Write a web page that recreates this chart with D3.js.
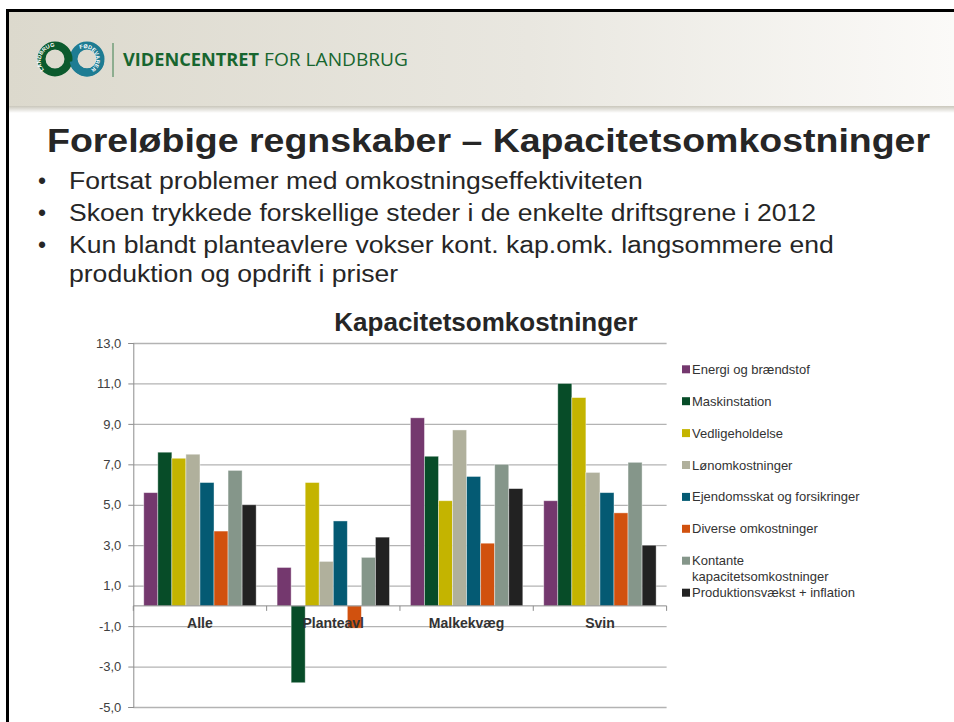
<!DOCTYPE html>
<html>
<head>
<meta charset="utf-8">
<script src="https://cdn.jsdelivr.net/npm/d3@7"></script>
<style>
  body { margin: 0; background: #fff; }
  svg { display: block; font-family: "Liberation Sans", Arial, sans-serif; }
</style>
</head>
<body>
<div id="slide"></div>
<script>

// chart data
var categories = ["Alle", "Planteavl", "Malkekvæg", "Svin"];
var seriesNames = ["Energi og brændstof", "Maskinstation", "Vedligeholdelse", "Lønomkostninger",
  "Ejendomsskat og forsikringer", "Diverse omkostninger", "Kontante kapacitetsomkostninger",
  "Produktionsvækst + inflation"];
var energi      = [5.6, 1.9, 9.3, 5.2];
var maskin      = [7.6, -3.8, 7.4, 11.0];
var vedlige     = [7.3, 6.1, 5.2, 10.3];
var loen        = [7.5, 2.2, 8.7, 6.6];
var ejendom     = [6.1, 4.2, 6.4, 5.6];
var diverse     = [3.7, -1.1, 3.1, 4.6];
var kontante    = [6.7, 2.4, 7.0, 7.1];
var produktion  = [5.0, 3.4, 5.8, 3.0];
var yTicks = [-5, -3, -1, 1, 3, 5, 7, 9, 11, 13];

var colors = ["#74386e", "#074c28", "#c4b400", "#b0b09c", "#045a73", "#d1510e", "#85968a", "#222222"];
var seriesValues = [energi, maskin, vedlige, loen, ejendom, diverse, kontante, produktion];

var bullets = [
  "Fortsat problemer med omkostningseffektiviteten",
  "Skoen trykkede forskellige steder i de enkelte driftsgrene i 2012",
  "Kun blandt planteavlere vokser kont. kap.omk. langsommere end"
];
var bulletCont = "produktion og opdrift i priser";

var svg = d3.select("#slide").append("svg")
    .attr("width", 954)
    .attr("height", 722);

var defs = svg.append("defs");
var hg = defs.append("linearGradient").attr("id", "headGrad");
hg.append("stop").attr("offset", "0%").attr("stop-color", "#dcd9cd");
hg.append("stop").attr("offset", "55%").attr("stop-color", "#e9e7e0");
hg.append("stop").attr("offset", "100%").attr("stop-color", "#fbfaf8");
var sg = defs.append("linearGradient").attr("id", "shadowGrad")
    .attr("x1", 0).attr("x2", 0).attr("y1", 0).attr("y2", 1);
sg.append("stop").attr("offset", "0%").attr("stop-color", "#cac7bc");
sg.append("stop").attr("offset", "100%").attr("stop-color", "#ffffff");

// header band
svg.append("rect").attr("x", 9).attr("y", 12).attr("width", 945).attr("height", 95)
    .attr("fill", "url(#headGrad)");
svg.append("rect").attr("x", 9).attr("y", 106).attr("width", 945).attr("height", 7)
    .attr("fill", "url(#shadowGrad)");

// slide border
svg.append("rect").attr("x", 6).attr("y", 9).attr("width", 948).attr("height", 3).attr("fill", "#000");
svg.append("rect").attr("x", 6).attr("y", 9).attr("width", 3).attr("height", 713).attr("fill", "#000");

// logo rings
var logo = svg.append("g");
logo.append("circle").attr("cx", 87).attr("cy", 59).attr("r", 13.5)
    .attr("fill", "none").attr("stroke", "#1e7c93").attr("stroke-width", 8);
logo.append("circle").attr("cx", 55).attr("cy", 59).attr("r", 13.5)
    .attr("fill", "none").attr("stroke", "#0b5a2d").attr("stroke-width", 8);
logo.append("path")
    .attr("d", d3.arc()({innerRadius: 9.5, outerRadius: 17.5, startAngle: Math.PI * 0.55, endAngle: Math.PI * 1.45}))
    .attr("transform", "translate(87,59)")
    .attr("fill", "#1e7c93");
defs.append("path").attr("id", "ringL").attr("d", "M44,70 A11.5,11.5 0 1,1 66,52");
defs.append("path").attr("id", "ringR").attr("d", "M80,49 A11.5,11.5 0 1,1 84,71");
logo.append("text").attr("font-size", 5.5).attr("font-weight", "bold").attr("fill", "#fff")
    .append("textPath").attr("href", "#ringL").text("LANDBRUG");
logo.append("text").attr("font-size", 5.5).attr("font-weight", "bold").attr("fill", "#fff")
    .append("textPath").attr("href", "#ringR").text("FØDEVARER");
svg.append("line").attr("x1", 113).attr("x2", 113).attr("y1", 43).attr("y2", 77)
    .attr("stroke", "#3d7f4f").attr("stroke-width", 1);

svg.append("text").attr("x", 123).attr("y", 66)
    .attr("font-family", "'Open Sans', sans-serif").attr("font-size", 18).attr("font-weight", "bold")
    .attr("fill", "#17662f").attr("textLength", 136).attr("lengthAdjust", "spacingAndGlyphs")
    .text("VIDENCENTRET");
svg.append("text").attr("x", 264).attr("y", 66)
    .attr("font-family", "'Open Sans', sans-serif").attr("font-size", 18)
    .attr("fill", "#17662f").attr("textLength", 144).attr("lengthAdjust", "spacingAndGlyphs")
    .text("FOR LANDBRUG");

// slide title and bullets
svg.append("text").attr("x", 47).attr("y", 152)
    .attr("font-size", 34).attr("font-weight", "bold").attr("fill", "#262626")
    .attr("textLength", 883).attr("lengthAdjust", "spacingAndGlyphs")
    .text("Foreløbige regnskaber – Kapacitetsomkostninger");

var bulletY = [189, 221, 252.5, 282];
var lines = bullets.concat([bulletCont]);
var bulletText = svg.selectAll(".bullet")
    .data(lines)
    .enter().append("text")
    .attr("class", "bullet")
    .attr("x", 69)
    .attr("y", function(d, i) { return bulletY[i]; })
    .attr("font-size", 23).attr("fill", "#262626")
    .text(function(d) { return d; });

// same horizontal stretch on every line, fitted on the 2nd line
var natural = [];
bulletText.each(function() { natural.push(this.getComputedTextLength()); });
var stretch = 747 / natural[1];
bulletText
    .attr("textLength", function(d, i) { return natural[i] * stretch; })
    .attr("lengthAdjust", "spacingAndGlyphs");

svg.selectAll(".dot")
    .data(bullets)
    .enter().append("text")
    .attr("x", 42)
    .attr("y", function(d, i) { return bulletY[i]; })
    .attr("text-anchor", "middle")
    .attr("font-size", 23).attr("fill", "#262626")
    .text("•");

// ---- bar chart ----
var plot = { left: 133.3, right: 666.6, top: 343, bottom: 707 };

var x0 = d3.scaleBand().domain(categories).range([plot.left, plot.right]);
var x1 = d3.scaleBand().domain(seriesNames).range([0, x0.bandwidth()]).paddingOuter(0.745);
var y = d3.scaleLinear().domain([-5, 13]).range([plot.bottom, plot.top]);

var chart = svg.append("g");

// gridlines
chart.append("g")
    .attr("transform", "translate(" + plot.left + ",0)")
    .call(d3.axisLeft(y).tickValues(yTicks).tickSize(-(plot.right - plot.left)).tickFormat(""))
    .call(function(g) {
      g.select(".domain").remove();
      g.selectAll("line").attr("stroke", "#b3b3b3").attr("stroke-width", 1.3);
    });

// y axis
chart.append("g")
    .attr("transform", "translate(" + plot.left + ",0)")
    .call(d3.axisLeft(y).tickValues(yTicks).tickSize(5).tickPadding(7)
      .tickFormat(function(d) { return d.toFixed(1).replace(".", ","); }))
    .call(function(g) {
      g.select(".domain").attr("stroke", "#8c8c8c");
      g.selectAll("line").attr("stroke", "#8c8c8c");
      g.selectAll("text").attr("font-size", 13).attr("fill", "#404040")
        .attr("font-family", "'Liberation Sans', Arial, sans-serif");
    });

// bars
var groups = chart.selectAll(".series")
    .data(seriesNames)
    .enter().append("g")
    .attr("class", "series")
    .attr("fill", function(d, i) { return colors[i]; });

groups.selectAll("rect")
    .data(function(d, i) {
      return categories.map(function(c, j) { return { cat: c, s: d, v: seriesValues[i][j] }; });
    })
    .enter().append("rect")
    .attr("x", function(d) { return x0(d.cat) + x1(d.s); })
    .attr("width", x1.bandwidth())
    .attr("y", function(d) { return y(Math.max(0, d.v)); })
    .attr("height", function(d) { return Math.abs(y(d.v) - y(0)); })
    .attr("stroke", "rgba(255,255,255,0.5)")
    .attr("stroke-width", 0.8);

// category axis at zero
chart.append("line")
    .attr("x1", plot.left).attr("x2", plot.right)
    .attr("y1", y(0)).attr("y2", y(0))
    .attr("stroke", "#8c8c8c").attr("stroke-width", 1);
chart.selectAll(".ctick")
    .data(categories.concat(["end"]))
    .enter().append("line")
    .attr("x1", function(d, i) { return plot.left + i * x0.bandwidth(); })
    .attr("x2", function(d, i) { return plot.left + i * x0.bandwidth(); })
    .attr("y1", y(0)).attr("y2", y(0) + 5)
    .attr("stroke", "#8c8c8c");

chart.selectAll(".clabel")
    .data(categories)
    .enter().append("text")
    .attr("x", function(d) { return x0(d) + x0.bandwidth() / 2; })
    .attr("y", 627.7)
    .attr("text-anchor", "middle")
    .attr("font-size", 14).attr("font-weight", "bold").attr("fill", "#333")
    .text(function(d) { return d; });

// chart title
chart.append("text").attr("x", 486).attr("y", 331)
    .attr("text-anchor", "middle")
    .attr("font-size", 26).attr("font-weight", "bold").attr("fill", "#262626")
    .text("Kapacitetsomkostninger");

// legend
var legendLines = [["Energi og brændstof"], ["Maskinstation"], ["Vedligeholdelse"], ["Lønomkostninger"],
  ["Ejendomsskat og forsikringer"], ["Diverse omkostninger"], ["Kontante", "kapacitetsomkostninger"],
  ["Produktionsvækst + inflation"]];
var ly = 369.3;
legendLines.forEach(function(lines, i) {
  var item = chart.append("g").attr("transform", "translate(682," + ly + ")");
  item.append("rect").attr("x", 0).attr("y", -4).attr("width", 8).attr("height", 8)
      .attr("fill", colors[i]);
  lines.forEach(function(t, k) {
    item.append("text").attr("x", 10).attr("y", k * 16).attr("dy", "0.35em")
        .attr("font-size", 13).attr("fill", "#333").text(t);
  });
  ly += lines.length > 1 ? 32 : 31.9;
});

</script>
</body>
</html>
